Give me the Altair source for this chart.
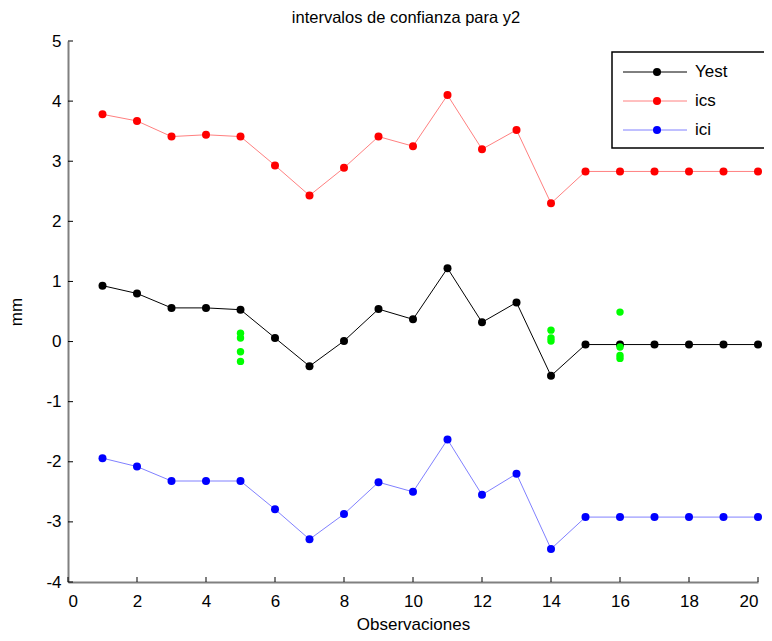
import altair as alt
import pandas as pd

# ---- data ----
obs = list(range(1, 21))
yest = [0.93, 0.80, 0.56, 0.56, 0.53, 0.06, -0.41, 0.01, 0.54, 0.37,
        1.22, 0.32, 0.65, -0.57, -0.05, -0.05, -0.05, -0.05, -0.05, -0.05]
ics = [3.78, 3.67, 3.41, 3.44, 3.41, 2.93, 2.43, 2.89, 3.41, 3.25,
       4.10, 3.20, 3.52, 2.30, 2.83, 2.83, 2.83, 2.83, 2.83, 2.83]
ici = [-1.94, -2.08, -2.32, -2.32, -2.32, -2.79, -3.29, -2.87, -2.34, -2.50,
       -1.63, -2.55, -2.20, -3.45, -2.92, -2.92, -2.92, -2.92, -2.92, -2.92]
green_x = [5, 5, 5, 5, 14, 14, 14, 16, 16, 16, 16]
green_y = [0.14, 0.06, -0.17, -0.33, 0.19, 0.06, 0.01, 0.49, -0.09, -0.23, -0.28]

series_names = ["Yest", "ics", "ici"]
series_colors = ["#000000", "#ff0000", "#0000ff"]
line_colors = ["#000000", "#ff8080", "#8080ff"]
x_ticks = list(range(0, 21, 2))
y_ticks = list(range(-4, 6))
chart_title = ["intervalos de confianza para y2"]

W, H = 690, 541
FONT = "Liberation Sans"

xs = alt.Scale(domain=[0, 20], nice=False, zero=False)
ys = alt.Scale(domain=[-4, 5], nice=False, zero=False)

xaxis = alt.Axis(values=x_ticks, title="Observaciones", grid=False,
                 tickSize=0, labelPadding=11, labelFontSize=17,
                 titleFontSize=17, titleFontWeight="normal",
                 titlePadding=7, domainColor="#808080", domainWidth=2,
                 labelColor="#000000", titleColor="#000000",
                 labelExpr="toString(datum.value)",
                 labelFont=FONT, titleFont=FONT)
yaxis = alt.Axis(values=y_ticks, title="mm", grid=False,
                 tickSize=0, labelPadding=7, labelFontSize=17,
                 titleFontSize=17, titleFontWeight="normal",
                 titlePadding=20, domainColor="#808080", domainWidth=2,
                 labelColor="#000000", titleColor="#000000",
                 labelExpr="toString(datum.value)",
                 labelFont=FONT, titleFont=FONT)

def X(f="x"):
    return alt.X(f"{f}:Q", scale=xs, axis=xaxis, title="Observaciones")

def Y(f="y"):
    return alt.Y(f"{f}:Q", scale=ys, axis=yaxis, title="mm")

def series_layer(values, color, lcolor, width):
    df = pd.DataFrame({"x": obs, "y": values})
    base = alt.Chart(df)
    line = base.mark_line(color=lcolor, strokeWidth=width).encode(x=X(), y=Y())
    pts = base.mark_circle(color=color, size=64, opacity=1).encode(x=X(), y=Y())
    return line + pts

xt = alt.Chart(pd.DataFrame({"x": x_ticks})).mark_rule(color="#000000", strokeWidth=1).encode(
    x=X(), y=alt.value(H), y2=alt.value(H - 5))
yt = alt.Chart(pd.DataFrame({"y": y_ticks})).mark_rule(color="#000000", strokeWidth=1).encode(
    y=Y(), x=alt.value(0), x2=alt.value(5))

s_yest = series_layer(yest, series_colors[0], line_colors[0], 1)
s_ics = series_layer(ics, series_colors[1], line_colors[1], 1)
s_ici = series_layer(ici, series_colors[2], line_colors[2], 1)

green = alt.Chart(pd.DataFrame({"x": green_x, "y": green_y})).mark_circle(
    color="#00ff00", size=55, opacity=1).encode(x=X(), y=Y())

# ---- legend box ----
box = alt.Chart(pd.DataFrame({"a": [0]})).mark_rect(
    fill="white", stroke="black", strokeWidth=1.5).encode(
    x=alt.value(544), x2=alt.value(698), y=alt.value(11), y2=alt.value(107))
leg_layers = [box]
for i, (nm, c, lc) in enumerate(zip(series_names, series_colors, line_colors)):
    d = pd.DataFrame({"name": [nm]})
    yy = 31 + 29 * i
    leg_layers.append(alt.Chart(d).mark_rule(strokeWidth=1, color=lc).encode(
        x=alt.value(555), x2=alt.value(619), y=alt.value(yy)))
    leg_layers.append(alt.Chart(d).mark_circle(size=64, opacity=1, color=c).encode(
        x=alt.value(589), y=alt.value(yy)))
    leg_layers.append(alt.Chart(d).mark_text(
        align="left", baseline="middle", fontSize=17, font=FONT, color="black").encode(
        x=alt.value(627), y=alt.value(yy), text="name:N"))

title_layer = alt.Chart(pd.DataFrame({"t": chart_title})).mark_text(
    align="center", baseline="middle", fontSize=16.5, font=FONT, color="black").encode(
    x=alt.value(W / 2 - 7), y=alt.value(-23), text="t:N")

chart = alt.layer(
    xt, yt, s_ics, s_ici, s_yest, green, *leg_layers, title_layer
).properties(
    width=W, height=H,
    padding={"left": 60, "top": 33, "right": 6, "bottom": 51},
    autosize=alt.AutoSizeParams(type="none"),
    background="white",
).configure_view(stroke=None)

chart.save("out.html", embed_options={"renderer": "svg", "actions": False})
